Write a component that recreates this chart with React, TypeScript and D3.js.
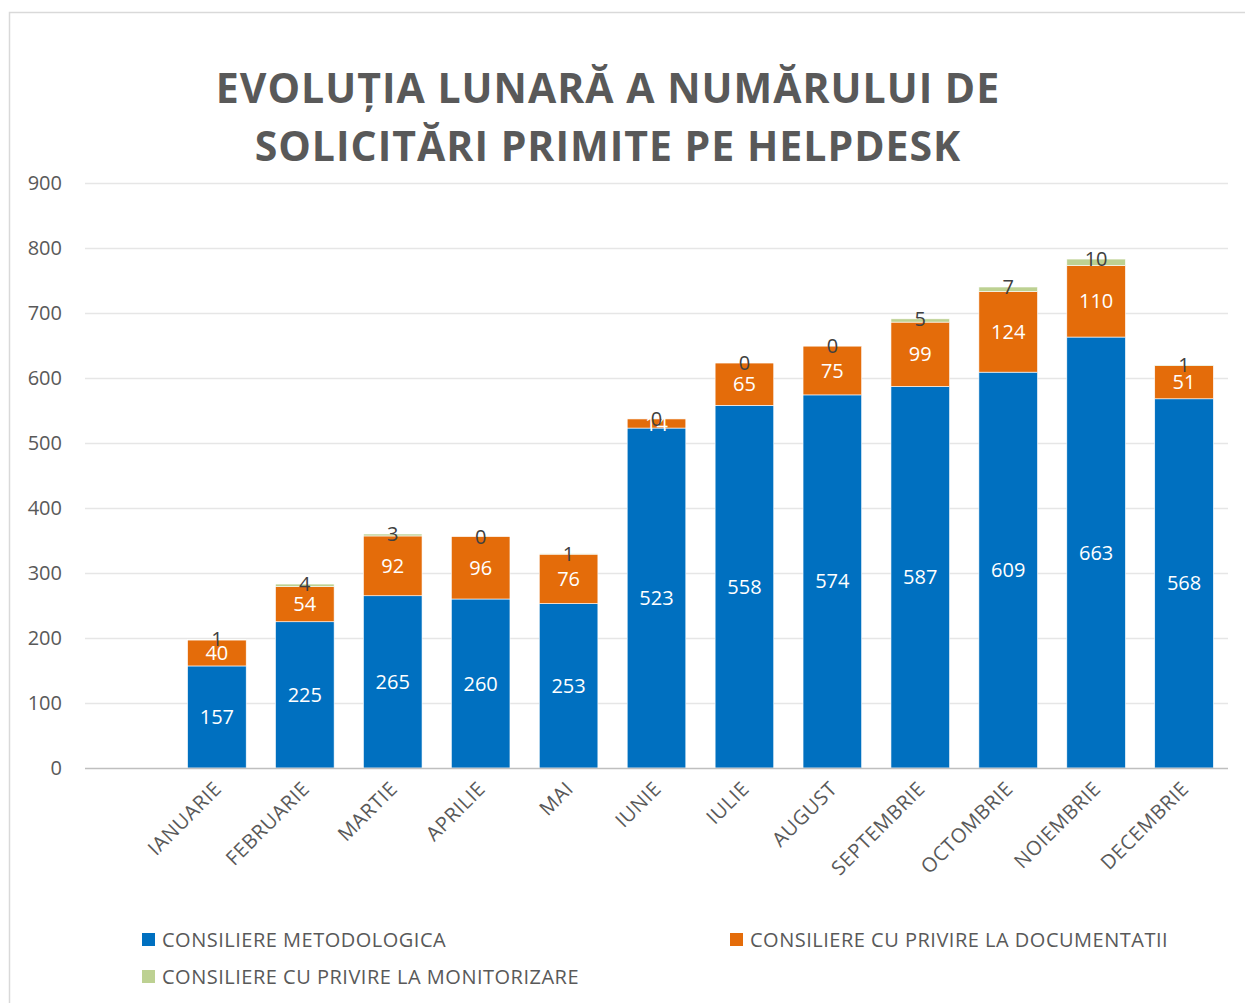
import * as d3 from "d3"
import { useEffect } from "react"

// blank first slot, like the source chart
const months = ["", "IANUARIE", "FEBRUARIE", "MARTIE", "APRILIE", "MAI", "IUNIE", "IULIE", "AUGUST", "SEPTEMBRIE", "OCTOMBRIE", "NOIEMBRIE", "DECEMBRIE"]
const metodologica = [NaN, 157, 225, 265, 260, 253, 523, 558, 574, 587, 609, 663, 568]
const documentatii = [NaN, 40, 54, 92, 96, 76, 14, 65, 75, 99, 124, 110, 51]
const monitorizare = [NaN, 1, 4, 3, 0, 1, 0, 0, 0, 5, 7, 10, 1]
const seriesNames = ["CONSILIERE METODOLOGICA", "CONSILIERE CU PRIVIRE LA DOCUMENTATII", "CONSILIERE CU PRIVIRE LA MONITORIZARE"]
const colors = ["#0070C0", "#E46C0A", "#BDD192"]
const yTicks = [0, 100, 200, 300, 400, 500, 600, 700, 800, 900]
const titleLines = ["EVOLUȚIA LUNARĂ A NUMĂRULUI DE", "SOLICITĂRI PRIMITE PE HELPDESK"]

const W = 1245
const H = 1003
const FONT = "'Open Sans', sans-serif"

export default function App() {
  useEffect(() => {
    document.body.style.margin = "0"
  }, [])

  const x = d3.scaleBand<string>().domain(months).range([85, 1228]).paddingInner(1 / 3).paddingOuter(1 / 6)
  const y = d3.scaleLinear().domain([0, 900]).range([768, 183])

  const rows = months.map((m, i) => ({ m, a: metodologica[i], b: documentatii[i], c: monitorizare[i] }))
  const stack = d3.stack<any>().keys(["a", "b", "c"])(rows.filter((r) => r.m !== ""))

  return (
    <svg width={W} height={H} style={{ display: "block" }} fontFamily={FONT}>
      <rect x={0} y={0} width={W} height={H} fill="#fff" />
      <path d={`M9.5,${H} V12.5 H${W}`} fill="none" stroke="#d9d9d9" strokeWidth={1.5} />

      {titleLines.map((t, i) => (
        <text key={i} x={608} y={103 + i * 58} textAnchor="middle" fontSize={41} fontWeight="bold" fill="#595959" letterSpacing={1}>
          {t}
        </text>
      ))}

      {yTicks.map((t) => (
        <g key={t}>
          {t > 0 && <line x1={85} x2={1228} y1={y(t) + 0.5} y2={y(t) + 0.5} stroke="#e6e6e6" strokeWidth={1.5} />}
          <text x={62} y={y(t)} dy="0.35em" textAnchor="end" fontSize={20} fill="#595959">
            {t}
          </text>
        </g>
      ))}

      {stack.map((s, si) => (
        <g key={si}>
          {s.map((d: any) => (
            <rect
              key={d.data.m}
              x={x(d.data.m)}
              width={x.bandwidth()}
              y={y(d[1])}
              height={Math.max(0, y(d[0]) - y(d[1]))}
              fill={colors[si]}
              stroke="#fff"
              strokeWidth={0.6}
            />
          ))}
        </g>
      ))}

      <line x1={85} x2={1228} y1={768.5} y2={768.5} stroke="#bfbfbf" strokeWidth={1.5} />

      {stack.map((s, si) => (
        <g key={"l" + si}>
          {s.map((d: any) => {
            const cx = (x(d.data.m) as number) + x.bandwidth() / 2
            const cy = si === 2 ? y(d[1]) : (y(d[0]) + y(d[1])) / 2
            return (
              <text key={d.data.m} x={cx} y={cy} dy="0.35em" textAnchor="middle" fontSize={20} fill={si === 2 ? "#404040" : "#fff"}>
                {d[1] - d[0]}
              </text>
            )
          })}
        </g>
      ))}

      {months.filter((m) => m !== "").map((m) => {
        const cx = (x(m) as number) + x.bandwidth() / 2 + 6
        return (
          <text key={m} transform={`translate(${cx},790) rotate(-45)`} textAnchor="end" fontSize={20} letterSpacing={0.6} fill="#595959">
            {m}
          </text>
        )
      })}

      {seriesNames.map((n, i) => {
        const lx = i === 1 ? 730 : 142
        const ly = i === 2 ? 977 : 940
        return (
          <g key={n}>
            <rect x={lx} y={ly - 7} width={13} height={13} fill={colors[i]} />
            <text x={lx + 20} y={ly} dy="0.35em" fontSize={20} letterSpacing={0.5} fill="#595959">
              {n}
            </text>
          </g>
        )
      })}
    </svg>
  )
}
